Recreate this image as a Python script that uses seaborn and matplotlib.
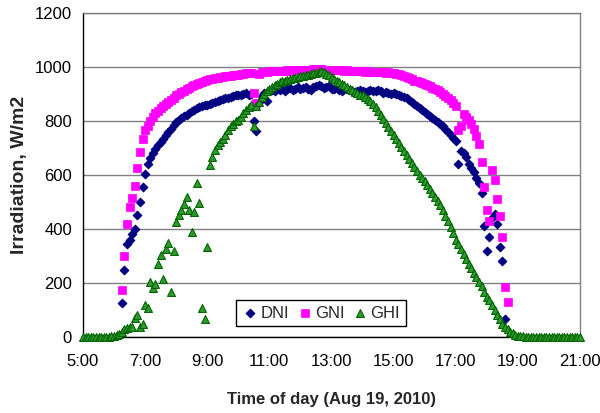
import numpy as np
import pandas as pd
import matplotlib
matplotlib.use("Agg")
import matplotlib.pyplot as plt
import seaborn as sns

# ---------------- data (5-minute readings, 5:00 .. 21:00) ----------------
# None = no reading plotted (sun below horizon for the beam instruments)
start_hour = 5.0
step_minutes = 5
_ = None

dni = [
    # 5:00-5:55
    _, _, _, _, _, _, _, _, _, _, _, _,
    # 6:00-6:55
    _, _, _, 125, 250, 345, 358, 382, 400, 452, 500, 557,
    # 7:00-7:55
    605, 640, 662, 680, 695, 710, 722, 735, 750, 760, 772, 785,
    # 8:00-8:55
    795, 803, 810, 818, 824, 830, 836, 842, 847, 851, 855, 858,
    # 9:00-9:55
    861, 864, 867, 870, 873, 876, 880, 884, 887, 890, 894, 897,
    # 10:00-10:55
    898, 895, 900, 902, 898, 900, 800, 762, 870, 892, 905, 875,
    # 11:00-11:55
    910, 915, 912, 918, 915, 920, 912, 918, 922, 915, 920, 925,
    # 12:00-12:55
    918, 922, 926, 920, 915, 925, 930, 935, 928, 922, 925, 930,
    # 13:00-13:55
    920, 918, 922, 915, 912, 918, 920, 915, 910, 908, 912, 915,
    # 14:00-14:55
    912, 908, 912, 915, 910, 912, 915, 910, 905, 908, 905, 900,
    # 15:00-15:55
    902, 900, 897, 894, 890, 885, 878, 870, 862, 855, 848, 840,
    # 16:00-16:55
    833, 826, 818, 812, 805, 798, 790, 782, 770, 758, 748, 738,
    # 17:00-17:55
    725, 640, 690, 680, 665, 640, 625, 612, 590, 570, 535, 410,
    # 18:00-18:55
    320, 370, 440, 455, 420, 334, 280, 65, _, _, _, _,
    # 19:00-19:55
    _, _, _, _, _, _, _, _, _, _, _, _,
    # 20:00-20:55
    _, _, _, _, _, _, _, _, _, _, _, _,
    # 21:00
    _,
]

gni = [
    # 5:00-5:55
    _, _, _, _, _, _, _, _, _, _, _, _,
    # 6:00-6:55
    _, _, _, 175, 300, 420, 480, 515, 560, 625, 685, 735,
    # 7:00-7:55
    765, 782, 800, 815, 828, 838, 848, 856, 864, 872, 878, 886,
    # 8:00-8:55
    895, 900, 906, 912, 918, 924, 929, 934, 938, 942, 946, 949,
    # 9:00-9:55
    952, 954, 956, 958, 960, 962, 964, 965, 966, 968, 969, 970,
    # 10:00-10:55
    972, 973, 975, 976, 977, 978, 905, 868, 975, 980, 982, 983,
    # 11:00-11:55
    984, 985, 985, 986, 987, 986, 987, 988, 987, 988, 989, 988,
    # 12:00-12:55
    988, 989, 990, 988, 990, 991, 992, 994, 992, 990, 989, 990,
    # 13:00-13:55
    989, 990, 988, 989, 988, 987, 988, 987, 986, 985, 986, 984,
    # 14:00-14:55
    984, 983, 984, 982, 983, 981, 982, 980, 981, 979, 980, 978,
    # 15:00-15:55
    977, 975, 973, 970, 967, 963, 958, 954, 950, 947, 944, 941,
    # 16:00-16:55
    938, 934, 929, 924, 919, 913, 907, 900, 892, 884, 876, 866,
    # 17:00-17:55
    855, 765, 780, 825, 815, 805, 790, 770, 745, 715, 650, 555,
    # 18:00-18:55
    470, 430, 619, 581, 510, 450, 370, 186, 131, _, _, _,
    # 19:00-19:55
    _, _, _, _, _, _, _, _, _, _, _, _,
    # 20:00-20:55
    _, _, _, _, _, _, _, _, _, _, _, _,
    # 21:00
    _,
]

ghi = [
    # 5:00-5:55
    0, 0, 0, 0, 0, 0, 0, 0, 0, 0, 1, 2,
    # 6:00-6:55
    3, 6, 10, 18, 28, 32, 36, 38, 70, 82, 38, 48,
    # 7:00-7:55
    118, 106, 205, 182, 198, 270, 302, 216, 325, 348, 168, 318,
    # 8:00-8:55
    427, 452, 472, 492, 520, 470, 390, 464, 572, 495, 108, 68,
    # 9:00-9:55
    334, 637, 668, 692, 710, 722, 735, 748, 765, 780, 790, 800,
    # 10:00-10:55
    805, 815, 828, 840, 850, 858, 780, 855, 872, 888, 900, 910,
    # 11:00-11:55
    918, 926, 933, 938, 943, 947, 950, 953, 955, 958, 960, 963,
    # 12:00-12:55
    966, 968, 970, 972, 975, 977, 979, 982, 984, 980, 975, 970,
    # 13:00-13:55
    963, 957, 950, 944, 938, 932, 926, 920, 914, 908, 902, 897,
    # 14:00-14:55
    895, 890, 882, 873, 862, 850, 837, 823, 808, 793, 778, 764,
    # 15:00-15:55
    750, 735, 720, 705, 690, 675, 660, 645, 630, 615, 600, 588,
    # 16:00-16:55
    576, 562, 548, 534, 520, 505, 488, 470, 450, 430, 408, 385,
    # 17:00-17:55
    360, 345, 325, 308, 290, 272, 255, 238, 222, 205, 190, 165,
    # 18:00-18:55
    148, 138, 120, 100, 82, 66, 50, 38, 28, 20, 13, 8,
    # 19:00-19:55
    5, 3, 2, 1, 0, 0, 0, 0, 0, 0, 0, 0,
    # 20:00-20:55
    0, 0, 0, 0, 0, 0, 0, 0, 0, 0, 0, 0,
    # 21:00
    0,
]

series_names = ["DNI", "GNI", "GHI"]
x_ticks = [5, 7, 9, 11, 13, 15, 17, 19, 21]
x_tick_labels = ["5:00", "7:00", "9:00", "11:00", "13:00", "15:00", "17:00", "19:00", "21:00"]
y_ticks = [0, 200, 400, 600, 800, 1000, 1200]

# ---------------- build table ----------------
n = len(dni)
hours = start_hour + np.arange(n) * step_minutes / 60.0
to_float = lambda seq: [np.nan if v is None else float(v) for v in seq]
df = pd.DataFrame({
    "hour": np.concatenate([hours, hours, hours]),
    "value": to_float(dni) + to_float(gni) + to_float(ghi),
    "series": [series_names[0]] * n + [series_names[1]] * n + [series_names[2]] * n,
}).dropna()

# ---------------- style ----------------
sns.set_theme(style="white")
plt.rcParams['font.family'] = ['Liberation Sans', 'DejaVu Sans']

fig = plt.figure(figsize=(6.0, 4.13), dpi=100)
ax = fig.add_axes([83 / 600, 1 - 337 / 413, 497 / 600, 324 / 413])

styles = {
    "DNI": dict(marker="D", s=19, color="#000080", edgecolor="#000080", linewidth=0.8),
    "GNI": dict(marker="s", s=28, color="#FF00FF", edgecolor="#FF00FF", linewidth=0.5),
    "GHI": dict(marker="^", s=32, color="#2E9A2E", edgecolor="#006400", linewidth=0.8),
}
for z, name in enumerate(series_names):
    sub = df[df["series"] == name]
    sns.scatterplot(data=sub, x="hour", y="value", ax=ax, label=name,
                    clip_on=False, zorder=3 + z, **styles[name])

ax.set_xlim(5, 21)
ax.set_ylim(0, 1200)
ax.set_xticks(x_ticks)
ax.set_xticklabels(x_tick_labels)
ax.set_yticks(y_ticks)

ax.yaxis.grid(True, color="#808080", linewidth=1.0)
ax.xaxis.grid(False)
ax.set_axisbelow(True)

for side in ["left", "bottom"]:
    ax.spines[side].set_color("black")
    ax.spines[side].set_linewidth(1.0)
for side in ["top", "right"]:
    ax.spines[side].set_color("#808080")
    ax.spines[side].set_linewidth(1.0)

ax.tick_params(axis="both", which="major", direction="out", length=4, width=1,
               color="black", labelsize=12, labelcolor="black", pad=4)
ax.tick_params(axis="x", pad=8)

ax.set_xlabel("Time of day (Aug 19, 2010)", fontsize=12, fontweight="bold", labelpad=17)
ax.set_ylabel("Irradiation, W/m2", fontsize=14, fontweight="bold", labelpad=5)

leg = ax.legend(loc="center", bbox_to_anchor=(0.479, 0.074), ncol=3, frameon=True,
                fancybox=False, shadow=False, framealpha=1, edgecolor="black",
                fontsize=12, handletextpad=0.1, columnspacing=0.45, borderpad=0.35,
                handlelength=1.0, markerscale=1.0)
leg.get_frame().set_linewidth(1.0)
leg.set_zorder(10)

fig.savefig("out.png", dpi=100, facecolor="white")
